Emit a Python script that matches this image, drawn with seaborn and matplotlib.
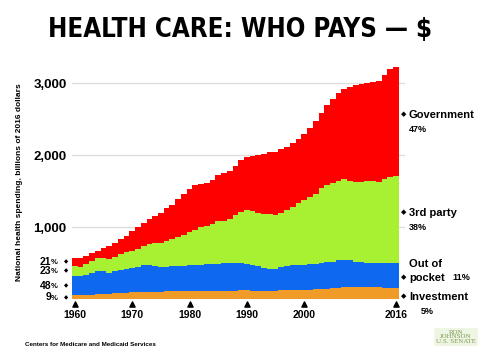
import numpy as np
import pandas as pd
import matplotlib
matplotlib.use("Agg")
import matplotlib.pyplot as plt
import seaborn as sns

# spending by payer, billions of 2016 dollars
years = list(range(1960, 2017))
investment = [51, 54, 58, 62, 66, 70, 75, 80, 85, 90,
              95, 98, 100, 102, 104, 106, 108, 110, 110, 112,
              112, 115, 117, 118, 120, 120, 118, 118, 120, 122,
              122, 120, 118, 118, 118, 120, 122, 124, 125, 126,
              128, 132, 136, 140, 145, 150, 158, 165, 168, 165,
              165, 165, 163, 162, 160, 158, 157]
out_of_pocket = [274, 266, 274, 298, 319, 323, 295, 305, 325, 330,
                 337, 352, 370, 366, 356, 346, 344, 345, 345, 350,
                 356, 360, 361, 367, 370, 375, 379, 382, 382, 378,
                 373, 358, 337, 314, 297, 300, 318, 338, 345, 349,
                 350, 353, 359, 365, 370, 373, 380, 377, 372, 355,
                 347, 342, 342, 341, 342, 343, 343]
third_party = [131, 132, 154, 173, 180, 182, 190, 194, 216, 230,
               241, 246, 273, 298, 316, 333, 361, 381, 414, 435,
               462, 488, 522, 538, 557, 584, 587, 617, 662, 710,
               739, 746, 746, 755, 763, 753, 756, 772, 810, 861,
               896, 936, 972, 1032, 1069, 1094, 1102, 1122, 1105, 1111,
               1119, 1129, 1131, 1128, 1166, 1200, 1210]
government = [120, 123, 119, 107, 110, 130, 175, 201, 204, 230,
              277, 304, 317, 344, 374, 415, 447, 474, 521, 563,
              600, 617, 600, 597, 613, 651, 666, 663, 686, 720,
              736, 766, 799, 833, 862, 877, 884, 876, 890, 884,
              926, 959, 1003, 1043, 1106, 1163, 1220, 1256, 1305, 1339,
              1359, 1364, 1374, 1399, 1442, 1499, 1510]

payers = ["Government", "3rd party", "Out of pocket", "Investment"]
colors = ["#FF0000", "#A8F032", "#0F68F0", "#F09A28"]
share_1960 = ["21%", "23%", "48%", "9%"]
share_2016 = ["47%", "38%", "11%", "5%"]
tick_years = [1960, 1970, 1980, 1990, 2000, 2016]

frames = []
for name, vals in zip(payers, [government, third_party, out_of_pocket, investment]):
    frames.append(pd.DataFrame({"year": years, "payer": name, "spend": vals}))
df = pd.concat(frames, ignore_index=True)

sns.set_style("white")
plt.rcParams["font.family"] = ["Liberation Sans", "DejaVu Sans"]
plt.rcParams["font.weight"] = "bold"
for k in ["text.color", "axes.labelcolor", "xtick.color", "ytick.color"]:
    plt.rcParams[k] = "black"

fig = plt.figure(figsize=(4.8, 3.6), dpi=100)
ax = fig.add_axes([0.15, 0.169, 0.694, 0.65])

sns.histplot(data=df, x="year", weights="spend", hue="payer", hue_order=payers,
             palette=dict(zip(payers, colors)), multiple="stack", discrete=True,
             element="step", fill=True, alpha=1, linewidth=0, legend=False, ax=ax)

ax.set_xlim(1959.5, 2017.6)
ax.set_ylim(0, 3250)
ax.set_yticks([1000, 2000, 3000])
ax.set_yticklabels(["1,000", "2,000", "3,000"], fontsize=9.5, fontweight="bold")
ax.yaxis.grid(True, color="#dddddd", linewidth=1)
ax.set_axisbelow(True)
ax.tick_params(axis="y", length=0, pad=4)
ax.set_xticks(tick_years)
ax.set_xticklabels([str(y) for y in tick_years], fontsize=7.5, fontweight="bold")
ax.tick_params(axis="x", length=0, pad=8)
for s in ax.spines.values():
    s.set_visible(False)
ax.set_xlabel("")
ax.set_ylabel("National health spending, billions of 2016 dollars", fontsize=6,
              fontweight="bold", labelpad=7)

# triangles over the year labels
ax.scatter(tick_years, [-0.022] * len(tick_years), marker="^", s=14, color="black",
           transform=ax.get_xaxis_transform(), clip_on=False, zorder=5)

# 1960 shares on the left
stack60 = [government[0], third_party[0], out_of_pocket[0], investment[0]]
tops = np.cumsum(stack60[::-1])[::-1]
for lab, top, v in zip(share_1960, tops, stack60):
    mid = top - v / 2
    ax.annotate(lab[:-1], xy=(1959.5, mid), xytext=(-15, 0), textcoords="offset points",
                ha="right", va="center", fontsize=7.5, fontweight="bold", annotation_clip=False)
    ax.annotate("%", xy=(1959.5, mid), xytext=(-15, -0.5), textcoords="offset points",
                ha="left", va="center", fontsize=5.5, fontweight="bold", annotation_clip=False)
    ax.annotate("\u25c6", xy=(1959.5, mid), xytext=(-4, 0), textcoords="offset points",
                ha="center", va="center", fontsize=4, annotation_clip=False)

# 2016 labels on the right
def right_label(y, name, pct=None, pct_x=0.852, diamond=True):
    if diamond:
        fig.text(0.840, 1 - y / 360, "\u25c6", fontsize=5, va="center", ha="center")
    if name:
        fig.text(0.852, 1 - y / 360, name, fontsize=8, va="center", fontweight="bold")
    if pct:
        fig.text(pct_x, 1 - (y if pct_x > 0.9 else y + 14) / 360, pct, fontsize=6.5,
                 va="center", fontweight="bold")

right_label(115, "Government", share_2016[0])
right_label(213, "3rd party", share_2016[1])
right_label(264, "Out of", diamond=False)
right_label(278, "pocket", share_2016[2], pct_x=0.942)
right_label(297, "Investment")
fig.text(0.877, 1 - 311 / 360, share_2016[3], fontsize=6.5, va="center", fontweight="bold")

fig.text(0.5, 1 - 30 / 360, "HEALTH CARE: WHO PAYS \u2014 $", fontsize=18.5, fontweight="heavy",
         family=["DejaVu Sans"], fontstretch="condensed", ha="center", va="center")
fig.text(0.052, 1 - 345 / 360, "Centers for Medicare and Medicaid Services", fontsize=4.5,
         fontweight="bold", va="center")
fig.text(0.950, 1 - 337 / 360, "RON\nJOHNSON\nU.S. SENATE", fontsize=5, color="#7d9a55",
         family="Liberation Serif", fontweight="normal", ha="center", va="center",
         linespacing=0.95,
         bbox=dict(boxstyle="round,pad=0.25", fc="#eef5e2", ec="none"))

fig.savefig("out.png", dpi=100)
